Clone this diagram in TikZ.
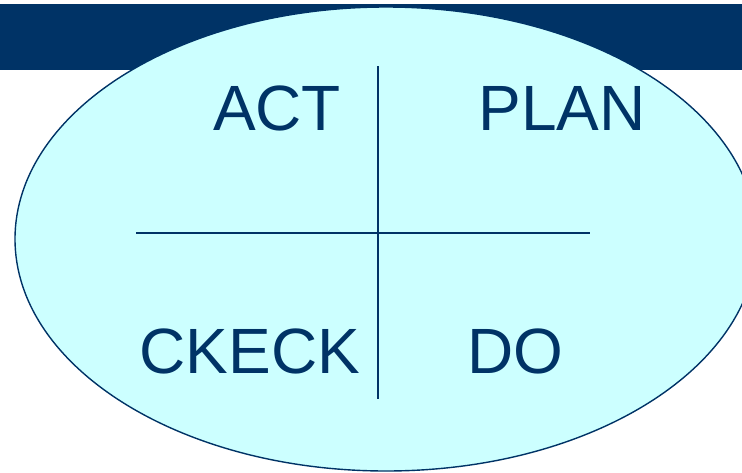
\documentclass[tikz,border=0pt]{standalone}
\usepackage{fontspec}
\setmainfont{Liberation Sans}
\usepackage{tikz}

\definecolor{pdcablue}{HTML}{003366}
\definecolor{pdcacyan}{HTML}{CCFFFF}

\tikzset{
  phase/.style={anchor=base, text=pdcablue, inner sep=0pt,
    font=\fontsize{64}{64}\selectfont},
  divider/.style={draw=pdcablue, line width=1.6pt}
}

\begin{document}
\begin{tikzpicture}[x=1pt, y=-1pt]

\clip (0,0) rectangle (742,472);
\useasboundingbox (0,0) rectangle (742,472);

\fill[pdcablue] (0,4) rectangle (742,70);
\draw[fill=pdcacyan, draw=pdcablue, line width=1.4pt] (386,239) ellipse [x radius=371, y radius=232];

\node[phase] (act) at (277,130) {ACT};
\node[phase] (plan) at (562,130) {PLAN};
\node[phase] (check) at (250,373) {CKECK};
\node[phase] (do) at (515,373) {DO};

\coordinate (top) at (378,66);
\coordinate (bottom) at (378,399);
\coordinate (left) at (136,233);
\coordinate (right) at (590,233);

\draw[divider] (top) -- (bottom);
\draw[divider] (left) -- (right);

\end{tikzpicture}
\end{document}
